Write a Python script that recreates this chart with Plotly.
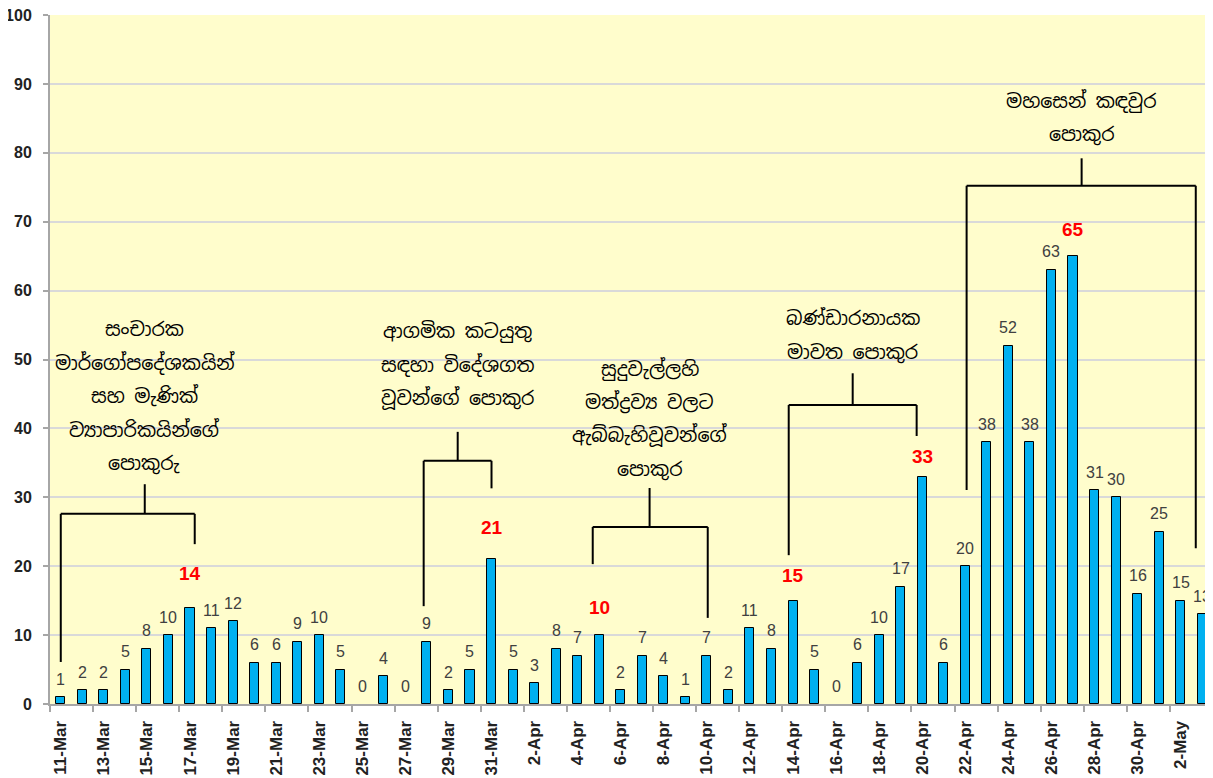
import plotly.graph_objects as go

dates = ["11-Mar","12-Mar","13-Mar","14-Mar","15-Mar","16-Mar","17-Mar","18-Mar","19-Mar","20-Mar",
         "21-Mar","22-Mar","23-Mar","24-Mar","25-Mar","26-Mar","27-Mar","28-Mar","29-Mar","30-Mar",
         "31-Mar","1-Apr","2-Apr","3-Apr","4-Apr","5-Apr","6-Apr","7-Apr","8-Apr","9-Apr",
         "10-Apr","11-Apr","12-Apr","13-Apr","14-Apr","15-Apr","16-Apr","17-Apr","18-Apr","19-Apr",
         "20-Apr","21-Apr","22-Apr","23-Apr","24-Apr","25-Apr","26-Apr","27-Apr","28-Apr","29-Apr",
         "30-Apr","1-May","2-May","3-May"]
cases = [1,2,2,5,8,10,14,11,12,6,
         6,9,10,5,0,4,0,9,2,5,
         21,5,3,8,7,10,2,7,4,1,
         7,2,11,8,15,5,0,6,10,17,
         33,6,20,38,52,38,63,65,31,30,
         16,25,15,13]
highlight_dates = ["17-Mar","31-Mar","5-Apr","14-Apr","20-Apr","27-Apr"]
y_ticks = [0,10,20,30,40,50,60,70,80,90,100]

cluster_lines = [
    ["සංචාරක", "මාර්ගෝපදේශකයින්", "සහ මැණික්", "ව්\u200dයාපාරිකයින්ගේ", "පොකුරු"],
    ["ආගමික කටයුතු", "සඳහා විදේශගත", "වූවන්ගේ පොකුර"],
    ["සුදුවැල්ලහි", "මත්ද්\u200dරව්\u200dය වලට", "ඇබ්බැහිවූවන්ගේ", "පොකුර"],
    ["බණ්ඩාරනායක", "මාවත පොකුර"],
    ["මහසෙන් කඳවුර", "පොකුර"],
]

# ---- style / layout helpers (positions in axis units) ----
# bracket: (left x, right x, stem x, bar y, left-bottom y, right-bottom y, stem-top y)
brackets = [
    (0.0, 6.22, 3.9, 27.6, 6.1, 23.2, 31.9),
    (16.85, 20.0, 18.43, 35.3, 14.2, 31.3, 39.5),
    (24.7, 30.04, 27.34, 25.7, 20.3, 12.5, 31.35),
    (33.8, 39.74, 36.77, 43.4, 21.6, 38.9, 48.0),
    (42.06, 52.7, 47.4, 75.2, 31.06, 22.6, 79.2),
]
text_top = [54.3, 54.0, 48.6, 55.9, 87.5]
line_step = 4.85
hl_shift = {"17-Mar": 34, "31-Mar": 32, "5-Apr": 28, "14-Apr": 25, "20-Apr": 20, "27-Apr": 27}

FONT = "Arial, Liberation Sans, sans-serif"
xs = list(range(len(dates)))

fig = go.Figure()
fig.add_trace(go.Bar(
    x=xs, y=cases, width=0.42,
    marker=dict(color="#00B0F0",
                line=dict(color="#000000", width=[1 if v > 0 else 0 for v in cases])),
    hoverinfo="skip", showlegend=False, cliponaxis=False,
))

annotations = []
for i, (d, v) in enumerate(zip(dates, cases)):
    if d in highlight_dates:
        annotations.append(dict(x=i, y=v, text=f"<b>{v}</b>", showarrow=False, yanchor="middle",
                                yshift=hl_shift[d], font=dict(family=FONT, size=19, color="#FF0000")))
    else:
        annotations.append(dict(x=i, y=v, text=str(v), showarrow=False, yanchor="middle",
                                yshift=18, font=dict(family=FONT, size=16, color="#404040")))

shapes = []
for (lx, rx, sx, by, lb, rb, st), lines, top in zip(brackets, cluster_lines, text_top):
    lc = dict(color="#000000", width=2)
    shapes.append(dict(type="line", x0=lx, x1=rx, y0=by, y1=by, line=lc))
    shapes.append(dict(type="line", x0=lx, x1=lx, y0=by, y1=lb, line=lc))
    shapes.append(dict(type="line", x0=rx, x1=rx, y0=by, y1=rb, line=lc))
    shapes.append(dict(type="line", x0=sx, x1=sx, y0=by, y1=st, line=lc))
    for k, t in enumerate(lines):
        annotations.append(dict(x=sx, y=top - k * line_step, text=t, showarrow=False,
                                yanchor="middle",
                                font=dict(family="Noto Sans Sinhala, Iskoola Pota, Noto Sans, sans-serif",
                                          size=19, color="#000000")))

# page body has an 8px default margin, so the figure is sized/placed to compensate
fig.update_layout(
    width=1205, height=770,
    margin=dict(l=42, r=0, t=7, b=74, autoexpand=False),
    paper_bgcolor="#FFFFFF",
    plot_bgcolor="#FFFDCC",
    annotations=annotations,
    shapes=shapes,
    bargap=0,
)
fig.update_xaxes(
    range=[-0.5, len(dates) - 0.5], automargin=False,
    tickmode="array", tickvals=xs[::2], ticktext=dates[::2],
    tickangle=-90, ticks="", ticklabelstandoff=8, ticklabeloverflow="allow",
    tickfont=dict(family=FONT, size=17, color="#222222", weight="bold"),
    showline=True, linecolor="#A6A6A6", linewidth=2,
    showgrid=False, zeroline=False,
    minor=dict(tickmode="array", tickvals=[i - 0.5 for i in xs[::2]] + [len(dates) - 0.5],
               ticks="outside", ticklen=6, tickcolor="#A6A6A6", tickwidth=1.5, showgrid=False),
)
fig.update_yaxes(
    range=[0, 100], automargin=False, tickmode="array", tickvals=y_ticks,
    ticks="outside", ticklen=5, tickcolor="#A6A6A6", tickwidth=1.5, ticklabelstandoff=8,
    ticklabeloverflow="allow",
    tickfont=dict(family=FONT, size=16, color="#222222", weight="bold"),
    showline=True, linecolor="#A6A6A6", linewidth=2,
    showgrid=True, gridcolor="#D9D9D9", gridwidth=1.5, zeroline=False,
)

fig.write_html("out.html")
